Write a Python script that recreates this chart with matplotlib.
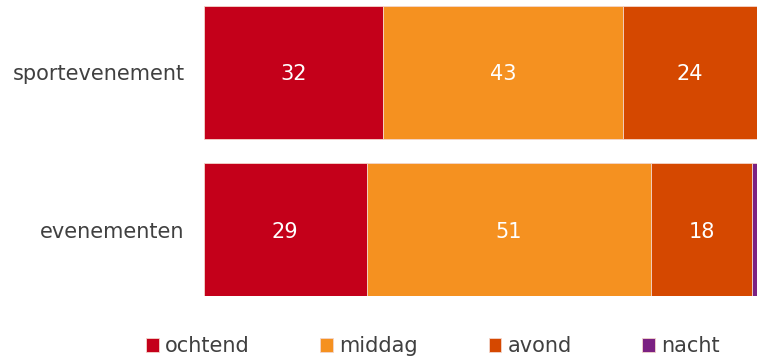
import matplotlib.pyplot as plt
import numpy as np

categories = ["sportevenement", "evenementen"]
series = ["ochtend", "middag", "avond", "nacht"]
ochtend = [32.4, 29.4]
middag = [43.4, 51.4]
avond = [24.2, 18.3]
nacht = [0.0, 0.9]

colors = ["#C4001A", "#F59120", "#D54800", "#7B2182"]
values = [ochtend, middag, avond, nacht]

fig = plt.figure(figsize=(7.57, 3.56), dpi=100)
ax = fig.add_axes([0.2695, 0.1685, 0.7305, 0.8145])

y = np.arange(len(categories))
left = np.zeros(len(categories))
for name, vals, col in zip(series, values, colors):
    vals = np.array(vals)
    ax.barh(y, vals, left=left, height=0.845, color=col,
            edgecolor="#f3d6cc", linewidth=0.6, label=name)
    for i, v in enumerate(vals):
        if v >= 5:
            ax.text(left[i] + v / 2, y[i], f"{v:.0f}", ha="center",
                    va="center_baseline", color="white", fontsize=15)
    left += vals

ax.set_xlim(0, 100)
ax.set_ylim(1.4225, -0.4225)
ax.set_yticks(y)
ax.set_yticklabels(categories, fontsize=15, color="#404040")
ax.tick_params(axis="y", length=0, pad=14)
ax.set_xticks([])
for s in ax.spines.values():
    s.set_visible(False)

ax.legend(loc="upper center", bbox_to_anchor=(0.414, -0.11), ncol=4, frameon=False,
          fontsize=15, handlelength=0.6, handleheight=0.6, handletextpad=0.3,
          columnspacing=3.4, labelcolor="#404040", borderaxespad=0)

fig.savefig("out.png", dpi=100)
